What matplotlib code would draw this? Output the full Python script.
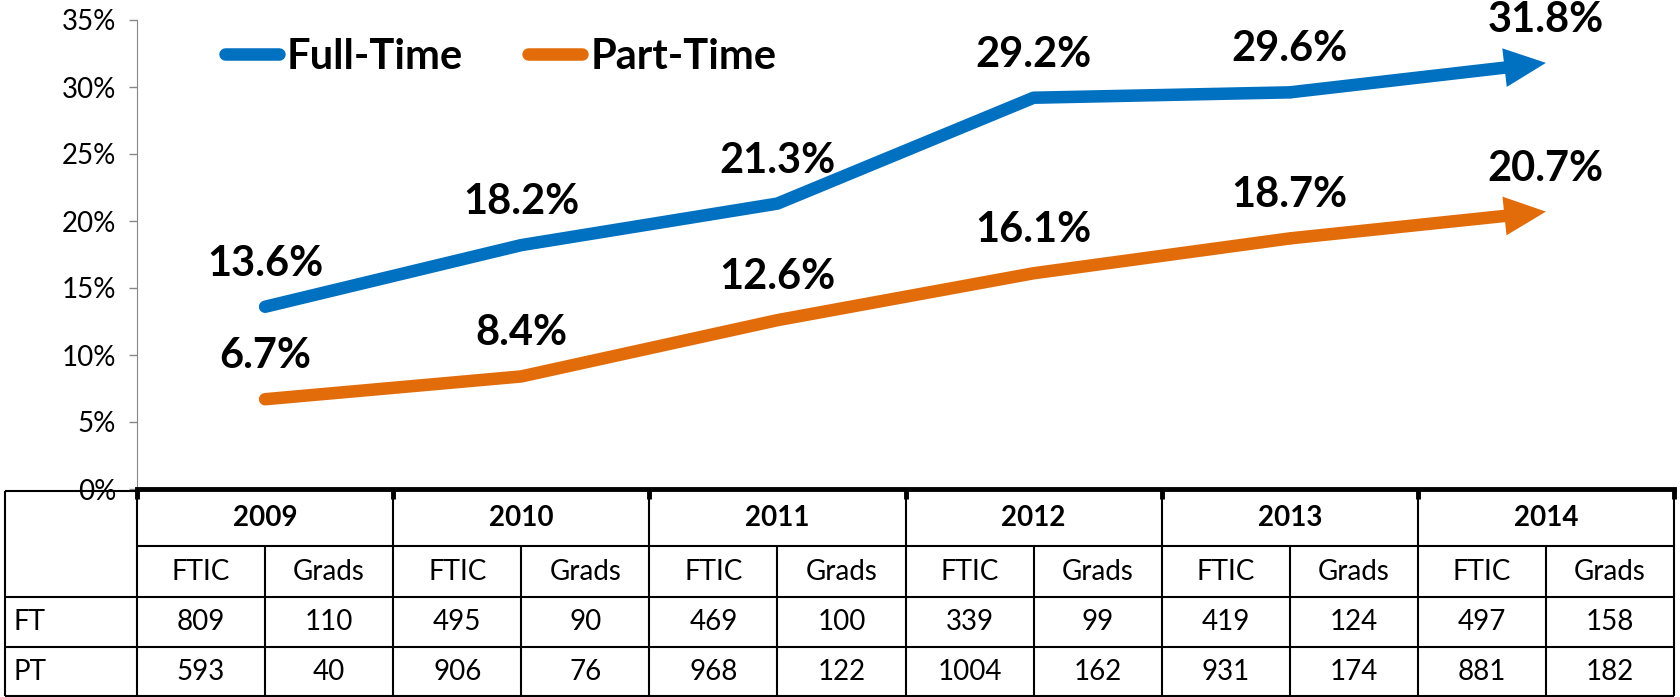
import matplotlib.pyplot as plt

plt.rcParams['font.family'] = ['Lato', 'DejaVu Sans']

years = ['2009', '2010', '2011', '2012', '2013', '2014']
full_time = [13.6, 18.2, 21.3, 29.2, 29.6, 31.8]
part_time = [6.7, 8.4, 12.6, 16.1, 18.7, 20.7]
y_ticks = [0, 5, 10, 15, 20, 25, 30, 35]

sub_headers = ['FTIC', 'Grads']
row_labels = ['FT', 'PT']
ft_ftic = [809, 495, 469, 339, 419, 497]
ft_grads = [110, 90, 100, 99, 124, 158]
pt_ftic = [593, 906, 968, 1004, 931, 881]
pt_grads = [40, 76, 122, 162, 174, 182]

blue = '#0070C0'
orange = '#E36C0A'

W, H = 1680, 697
fig = plt.figure(figsize=(W / 100, H / 100), dpi=100)

# plot area in pixels
x_left, x_right = 137, 1674
y_zero, y_top = 489, 20
ax = fig.add_axes([x_left / W, 1 - y_zero / H, (x_right - x_left) / W, (y_zero - y_top) / H])

x = list(range(len(years)))
for vals, color, label in [(full_time, blue, 'Full-Time'), (part_time, orange, 'Part-Time')]:
    ax.plot(x[:-1], vals[:-1], color=color, lw=9, solid_capstyle='round',
            solid_joinstyle='round', label=label)
    # last segment ends in an arrow head
    ax.annotate('', xy=(x[-1], vals[-1]), xytext=(x[-2], vals[-2]),
                arrowprops=dict(arrowstyle='simple,head_length=3.0,head_width=2.8,tail_width=0.9',
                                mutation_scale=10, fc=color, ec='none', lw=0,
                                shrinkA=0, shrinkB=0))
    for xi, v in zip(x, vals):
        ax.annotate(f'{v:.1f}%', (xi, v), xytext=(0, 31), textcoords='offset points',
                    ha='center', va='center', fontsize=30, fontweight='bold')

ax.set_xlim(-0.5, len(years) - 0.5)
ax.set_ylim(0, 35)
ax.set_yticks(y_ticks)
ax.set_yticklabels([f'{t}%' for t in y_ticks])
ax.set_xticks([])
ax.tick_params(axis='y', color='#868686', length=6, width=1, labelsize=20, pad=9)
for s in ['top', 'right']:
    ax.spines[s].set_visible(False)
ax.spines['left'].set_color('#868686')
ax.spines['bottom'].set_color('black')
ax.spines['bottom'].set_linewidth(3.5)

leg = ax.legend(loc='upper left', bbox_to_anchor=(0.057, 0.962), ncol=2, frameon=False,
                prop={'size': 30, 'weight': 'bold'}, handlelength=1.3, handletextpad=0.2,
                columnspacing=1.55, borderpad=0, borderaxespad=0)

# data table below the chart, drawn in pixel coordinates
tax = fig.add_axes([0, 0, 1, 1])
tax.set_xlim(0, W)
tax.set_ylim(H, 0)
tax.axis('off')

x0 = 5
year_w = (x_right - x_left) / len(years)
rows = [491, 546, 597, 647, 696]
lw = 1.5
edges = [x_left + i * year_w for i in range(len(years) + 1)]

tax.hlines(rows[0], x0, x_left, color='black', lw=lw)
tax.hlines(rows[1], x_left, x_right, color='black', lw=lw)
tax.hlines(rows[2:], x0, x_right, color='black', lw=lw)
tax.vlines(x0, rows[0], rows[-1], color='black', lw=lw)
tax.vlines(edges, rows[0], rows[-1], color='black', lw=lw)
tax.vlines(edges, y_zero, y_zero + 10, color='black', lw=3.5)
tax.vlines([e + year_w / 2 for e in edges[:-1]], rows[1], rows[-1], color='black', lw=lw)

fs = 20
for i, yr in enumerate(years):
    cx = edges[i] + year_w / 2
    tax.text(cx, (rows[0] + rows[1]) / 2, yr, ha='center', va='center', fontsize=fs, fontweight='bold')
    for j, sh in enumerate(sub_headers):
        sx = edges[i] + year_w / 4 + j * year_w / 2
        tax.text(sx, (rows[1] + rows[2]) / 2, sh, ha='center', va='center', fontsize=fs)
    for r, (ftic, grads) in enumerate([(ft_ftic, ft_grads), (pt_ftic, pt_grads)]):
        ry = (rows[2 + r] + rows[3 + r]) / 2
        tax.text(edges[i] + year_w / 4, ry, str(ftic[i]), ha='center', va='center', fontsize=fs)
        tax.text(edges[i] + 3 * year_w / 4, ry, str(grads[i]), ha='center', va='center', fontsize=fs)

for r, lab in enumerate(row_labels):
    tax.text(x0 + 8, (rows[2 + r] + rows[3 + r]) / 2, lab, ha='left', va='center', fontsize=fs)

fig.savefig('out.png', dpi=100)
